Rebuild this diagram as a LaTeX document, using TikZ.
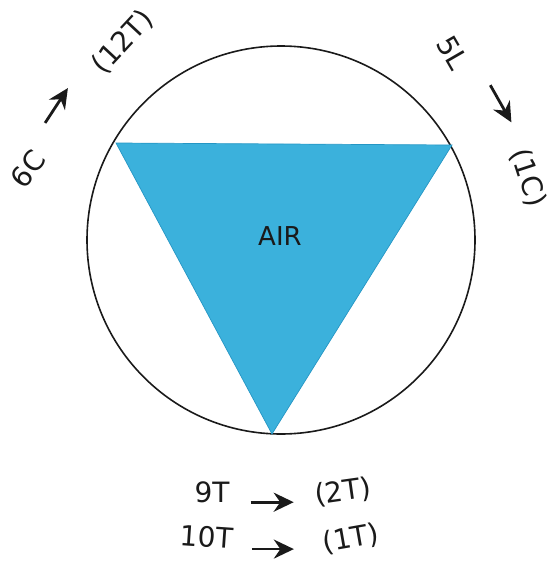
\documentclass[tikz,border=0pt]{standalone}
\usepackage{fontspec}
\setmainfont{DejaVu Sans}
\usetikzlibrary{arrows.meta}
\definecolor{water}{HTML}{3BB1DC}
\definecolor{waterline}{HTML}{2596C4}
\definecolor{ink}{HTML}{1A1A1A}
\tikzset{
  ring/.style={draw=ink,line width=1.6pt},
  wedge/.style={fill=water,draw=waterline,line width=0.7pt},
  lbl/.style={font=\fontsize{28}{30}\selectfont,text=ink,inner sep=1pt},
  tag/.style={font=\fontsize{26}{28}\selectfont,text=ink,inner sep=1pt},
  arrow/.style={-{Stealth[length=20pt,width=19pt]},line width=2.8pt,color=ink},
}

\begin{document}
\begin{tikzpicture}[x=1pt,y=-1pt]
  \useasboundingbox (0,0) rectangle (552,565);
  \draw[ring] (281,240) circle [radius=194pt];
  \filldraw[wedge] (116,143) -- (452,145) -- (272,434) -- cycle;
  \node[tag] (air) at (280,236) {AIR};

  \node[lbl,rotate=52] (sixC) at (28,169) {6C};
  \node[lbl,rotate=47] (twelveT) at (123,42) {(12T)};
  \draw[arrow,shorten <=55pt,shorten >=55pt] ([xshift=-13pt]sixC.center) -- ([xshift=-25pt]twelveT.center);

  \node[lbl,rotate=-60] (fiveL) at (453,53) {5L};
  \node[lbl,rotate=-72] (oneC) at (528,178) {(1C)};
  \draw[arrow,shorten <=37pt,shorten >=64pt] ([xshift=19pt]fiveL.center) -- ([xshift=15pt]oneC.center);

  \node[lbl] (nineT) at (212,492) {9T};
  \node[lbl,rotate=8] (twoT) at (343,492) {(2T)};
  \draw[arrow,shorten <=20pt,shorten >=20pt] (nineT.base east) -- (nineT.base east -| twoT.west);

  \node[lbl,rotate=-4] (tenT) at (207,537) {10T};
  \node[lbl,rotate=10] (oneT) at (351,539) {(1T)};
  \draw[arrow,shorten <=18pt,shorten >=28pt] (tenT.base east) -- (tenT.base east -| oneT.west);
\end{tikzpicture}
\end{document}
